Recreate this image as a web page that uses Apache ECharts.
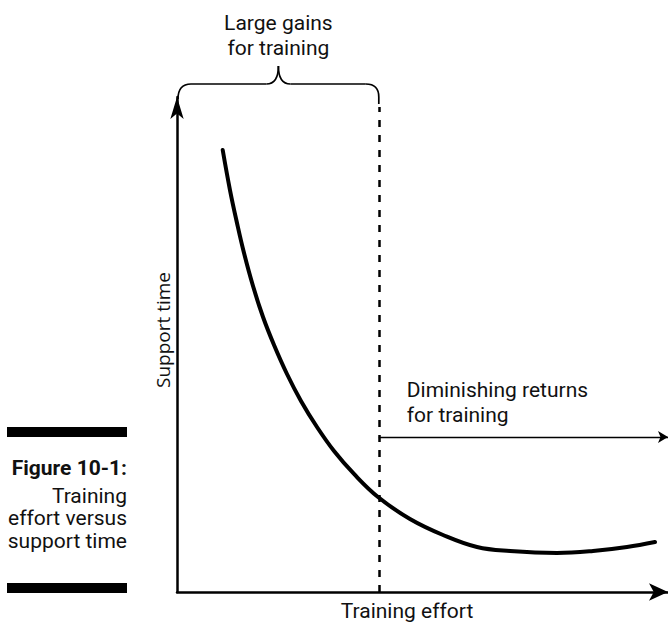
<!DOCTYPE html>
<html><head><meta charset="utf-8">
<script src="https://cdn.jsdelivr.net/npm/echarts@6/dist/echarts.min.js"></script>
<style>html,body{margin:0;padding:0;background:#fff}#c{width:668px;height:624px}</style>
</head><body><div id="c"></div>
<script>
// Curve: training effort (x) vs support time (y), axis scale 0..100
const effortX  = [9.31, 10.79, 12.22, 13.65, 15.48, 17.52, 19.76, 22.40, 25.25, 28.51, 31.98, 36.05, 40.94, 47.45, 54.18, 61.10, 67.82, 77.39, 84.73, 91.65, 97.35];
const supportY = [89.29, 81.21, 74.55, 68.48, 61.82, 55.56, 49.90, 44.04, 38.59, 33.33, 28.48, 23.84, 19.19, 14.75, 11.52, 9.09, 8.28, 7.88, 8.28, 9.09, 10.10];
const axisMin = 0;
const axisMax = 100;
const dividerX = 41.1;
const dividerTop = 98;
const returnsArrowY = 31.3;

const xAxisName = 'Training effort';
const yAxisName = 'Support time';
const braceLabel = ['Large gains', 'for training'];
const returnsLabel = ['Diminishing returns', 'for training'];
const captionTitle = 'Figure 10-1:';
const captionLines = ['Training', 'effort versus', 'support time'];

const FONT = 'Roboto, "Liberation Sans", sans-serif';
const INK = '#111';

const chart = echarts.init(document.getElementById('c'), null, {renderer: 'svg'});
const curve = effortX.map((x, i) => [x, supportY[i]]);

chart.setOption({
  animation: false,
  backgroundColor: '#fff',
  grid: {left: 177, right: 0, top: 97, bottom: 32, containLabel: false},
  xAxis: {
    type: 'value', min: axisMin, max: axisMax,
    axisLine: {show: true, onZero: false, symbol: ['none', 'arrow'], symbolSize: [13, 19],
      lineStyle: {color: '#000', width: 2.5}},
    axisTick: {show: false}, axisLabel: {show: false}, splitLine: {show: false}
  },
  yAxis: {
    type: 'value', min: axisMin, max: axisMax,
    axisLine: {show: true, onZero: false, symbol: ['none', 'arrow'], symbolSize: [10, 22],
      lineStyle: {color: '#000', width: 2.5}},
    axisTick: {show: false}, axisLabel: {show: false}, splitLine: {show: false}
  },
  series: [{
    type: 'line',
    data: curve,
    smooth: 0.4,
    showSymbol: false,
    symbol: 'none',
    silent: true,
    lineStyle: {color: '#000', width: 4, cap: 'round'},
    markLine: {
      silent: true,
      animation: false,
      label: {show: false},
      emphasis: {disabled: true},
      data: [
        [
          {coord: [dividerX, axisMin], symbol: 'none', lineStyle: {color: '#000', width: 2.5, type: [7, 8]}},
          {coord: [dividerX, dividerTop], symbol: 'none'}
        ],
        [
          {coord: [dividerX, returnsArrowY], symbol: 'none', symbolSize: [9, 10], lineStyle: {color: '#000', width: 1.4, type: 'solid'}},
          {coord: [axisMax, returnsArrowY], symbol: 'arrow', symbolSize: [9, 10]}
        ]
      ]
    }
  }]
});

function drawDecor() {
  const pL = chart.convertToPixel({gridIndex: 0}, [axisMin, axisMax]);
  const pR = chart.convertToPixel({gridIndex: 0}, [dividerX, axisMax]);
  const pArrow = chart.convertToPixel({gridIndex: 0}, [dividerX, returnsArrowY]);
  const xl = pL[0] + 1, xr = pR[0], yb = pL[1] - 13, yt = pL[1] - 31;
  const xm = (xl + xr) / 2;
  const r = 13;
  const bs = {fill: null, stroke: '#000', lineWidth: 1.7};
  const q = (x1, y1, cx, cy, x2, y2) => ({type: 'bezierCurve', silent: true,
    shape: {x1, y1, x2, y2, cpx1: cx, cpy1: cy}, style: bs});
  const ln = (x1, y1, x2, y2) => ({type: 'line', silent: true, shape: {x1, y1, x2, y2}, style: bs});
  const txt = (text, x, y, opts = {}) => ({
    type: 'text', x, y, rotation: opts.rotation || 0, silent: true,
    style: {text, fill: INK, font: `${opts.weight || 'normal'} ${opts.size || 21}px ${opts.family || FONT}`,
      align: opts.align || 'left', verticalAlign: 'middle'}
  });
  const capX = 127;
  chart.setOption({
    graphic: [
      q(xl, pL[1] + 2, xl, yb, xl + r, yb),
      ln(xl + r, yb, xm - 12, yb),
      q(xm - 12, yb, xm, yb, xm, yt),
      q(xm, yt, xm, yb, xm + 12, yb),
      ln(xm + 12, yb, xr - r, yb),
      q(xr - r, yb, xr, yb, xr, yb + r),
      ln(xr, yb + r, xr, yb + 20),
      txt(braceLabel[0], xm, 23, {align: 'center'}),
      txt(braceLabel[1], xm, 48, {align: 'center'}),
      txt(returnsLabel[0], pArrow[0] + 28, 390),
      txt(returnsLabel[1], pArrow[0] + 28, 415),
      txt(xAxisName, 407, 611, {align: 'center'}),
      txt(yAxisName, 163, 330, {align: 'center', rotation: Math.PI / 2, size: 19, family: '"Open Sans", "Noto Sans", sans-serif'}),
      {type: 'rect', silent: true, shape: {x: 7, y: 427, width: 120, height: 10}, style: {fill: '#000'}},
      {type: 'rect', silent: true, shape: {x: 7, y: 583, width: 120, height: 10}, style: {fill: '#000'}},
      txt(captionTitle, capX, 468, {align: 'right', weight: 'bold'}),
      txt(captionLines[0], capX, 496, {align: 'right'}),
      txt(captionLines[1], capX, 518, {align: 'right'}),
      txt(captionLines[2], capX, 541, {align: 'right'})
    ]
  });
}
drawDecor();
</script>
</body></html>
